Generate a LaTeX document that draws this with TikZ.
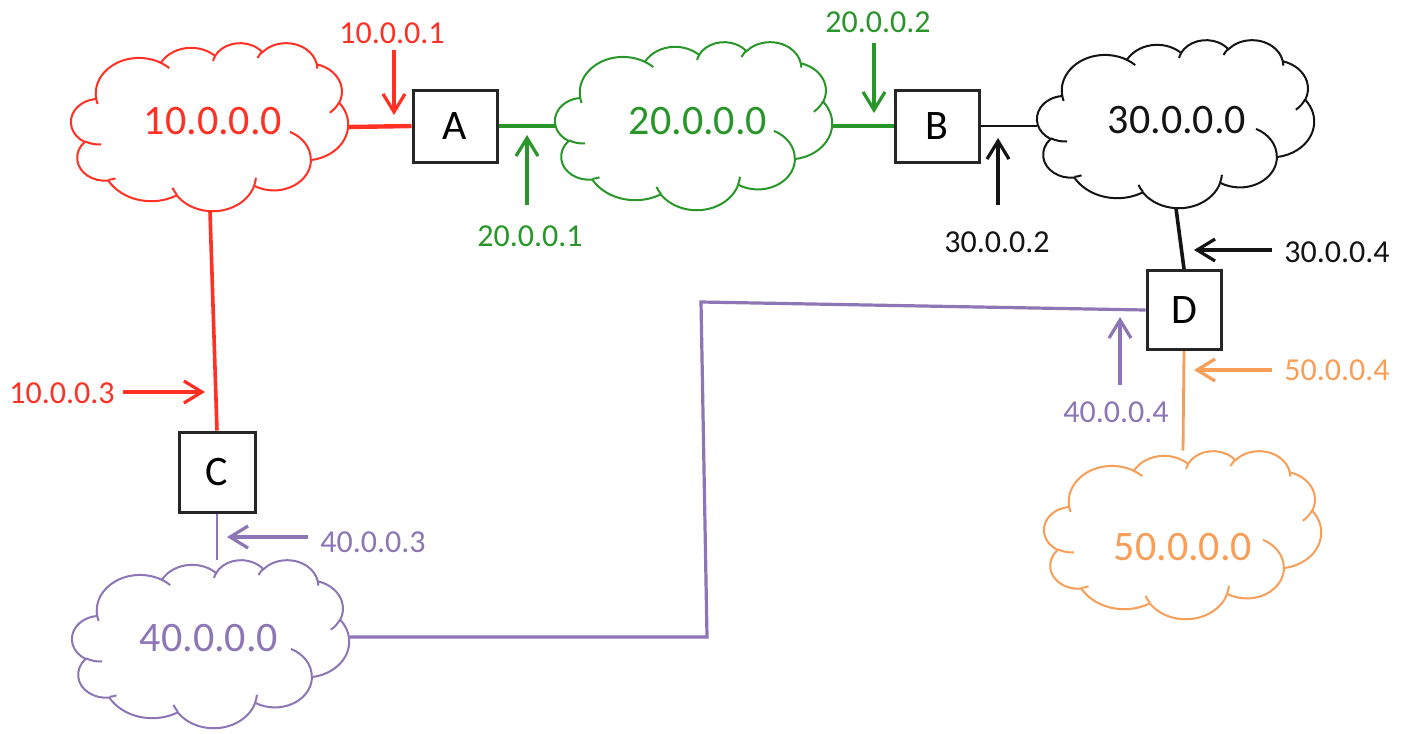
\documentclass[tikz,border=0pt]{standalone}
\usepackage{fontspec}
\setmainfont{Carlito}
\usetikzlibrary{arrows.meta,backgrounds}

\definecolor{netRed}{RGB}{255,48,36}
\definecolor{netGreen}{RGB}{40,150,40}
\definecolor{netBlack}{RGB}{20,20,20}
\definecolor{netPurple}{RGB}{140,118,182}
\definecolor{netOrange}{RGB}{247,158,88}

\pgfdeclarelayer{clouds}
\pgfsetlayers{background,clouds,main}

% cloud outline on a 4320 x 4320 grid, y pointing down
\newcommand\cloudarc[5]{%
  \pgfmathsetmacro\caT{atan2((#2)*sin(#4),(#3)*cos(#4))}%
  \pgfmathsetmacro\caD{mod(atan2((#2)*sin(#4+#5),(#3)*cos(#4+#5))-\caT+720,360)}%
  \xdef#1{\unexpanded\expandafter{#1} arc[start angle=\caT,delta angle=\caD,x radius=#2,y radius=#3]}}
\newcommand\cloudmove[2]{\xdef\cloudCreases{\unexpanded\expandafter{\cloudCreases} (#2)}}
\newcommand\cloudOutline{(390,1437)}
\newcommand\cloudCreases{}
\cloudarc\cloudOutline{675.3}{919.0}{-190.4875}{123.7805}
\cloudarc\cloudOutline{533.3}{726.7}{-144.1024}{89.9452}
\cloudarc\cloudOutline{436.5}{594.5}{-145.8079}{99.7230}
\cloudarc\cloudOutline{485.7}{659.5}{-130.9861}{117.2417}
\cloudarc\cloudOutline{533.3}{727.3}{-78.7089}{109.0269}
\cloudarc\cloudOutline{677.5}{922.0}{-46.2673}{130.2690}
\cloudarc\cloudOutline{578.5}{786.7}{0.6250}{114.0333}
\cloudarc\cloudOutline{675.2}{921.5}{22.4516}{115.1726}
\cloudarc\cloudOutline{772.0}{1054.3}{66.2426}{75.7110}
\cloudarc\cloudOutline{436.0}{591.8}{-274.9421}{146.7356}
\cloudarc\cloudOutline{434.5}{594.5}{-246.8285}{152.5189}
\cloudmove{}{469.3,2617.7}\cloudarc\cloudCreases{434.5}{594.5}{86.7420}{26.4295}
\cloudmove{}{692.8,3489.9}\cloudarc\cloudCreases{436.0}{591.8}{73.6105}{11.4475}
\cloudmove{}{1647.8,3909.0}\cloudarc\cloudCreases{675.2}{921.5}{137.6242}{14.0811}
\cloudmove{}{2882.7,3475.1}\cloudarc\cloudCreases{675.2}{921.5}{6.4533}{15.9984}
\cloudmove{}{3412.9,2295.4}\cloudarc\cloudCreases{578.5}{786.7}{-70.2924}{70.9174}
\cloudmove{}{4179.8,1535.4}\cloudarc\cloudCreases{533.3}{727.3}{30.3180}{27.7515}
\cloudmove{}{3832.4,542.6}\cloudarc\cloudCreases{485.7}{659.5}{-13.7443}{14.8589}
\cloudmove{}{2907.8,395.2}\cloudarc\cloudCreases{485.7}{659.5}{-149.1815}{18.1954}
\cloudmove{}{2214.1,472.0}\cloudarc\cloudCreases{436.5}{594.5}{-163.4943}{17.6864}
\cloudmove{}{1400.0,519.2}\cloudarc\cloudCreases{675.3}{919.0}{-66.7070}{12.3194}
\cloudmove{}{412.7,1578.9}\cloudarc\cloudCreases{675.3}{919.0}{157.6544}{11.8582}

\newcommand\drawcloud[2]{%
  \begin{pgfonlayer}{clouds}
  \begin{scope}[shift={(#1.north west)},xscale=0.06412,yscale=0.03889,
      draw=#2,line width=1pt]
    \draw[fill=white] \cloudOutline -- cycle;
    \draw \cloudCreases;
  \end{scope}
  \end{pgfonlayer}}

\tikzset{
  net/.style={inner sep=0pt,minimum width=138.5pt,minimum height=84pt},
  netlabel/.style={text=#1,inner sep=0pt,font=\fontsize{21}{25}\selectfont},
  router/.style={draw=black!85,line width=1.5pt,fill=white,
    inner sep=0pt,font=\fontsize{21}{25}\selectfont},
  addr/.style={text=#1,inner sep=1pt,font=\fontsize{16}{19}\selectfont},
  addrarrow/.style={draw=#1,line width=1.6pt,
    -{Straight Barb[length=9pt,width=11pt]}}
}

\begin{document}
\begin{tikzpicture}[x=0.5pt,y=-0.5pt]
\begin{scope}[on background layer]
\path[use as bounding box,fill=white] (0,0) rectangle (1411,731);
\end{scope}

% networks
\node[net,label={[netlabel=netRed,xshift=1.5pt,yshift=3pt]center:10.0.0.0}] (n10) at (210,127) {};
\node[net,label={[netlabel=netGreen,xshift=2pt,yshift=2.5pt]center:20.0.0.0}] (n20) at (694,126) {};
\node[net,label={[netlabel=netBlack,xshift=0.5pt,yshift=2pt]center:30.0.0.0}] (n30) at (1176,124) {};
\node[net,label={[netlabel=netPurple,xshift=-1pt,yshift=3pt]center:40.0.0.0}] (n40) at (211,644) {};
\node[net,label={[netlabel=netOrange,yshift=-6pt]center:50.0.0.0}] (n50) at (1183,535) {};
\drawcloud{n10}{netRed}
\drawcloud{n20}{netGreen}
\drawcloud{n30}{netBlack}
\drawcloud{n40}{netPurple}
\drawcloud{n50}{netOrange}

% routers
\node[router,minimum width=42pt,minimum height=36pt] (A) at (455,126) {A};
\node[router,minimum width=42pt,minimum height=36pt] (B) at (937,126) {B};
\node[router,minimum width=38pt,minimum height=40pt] (C) at (217,472) {C};
\node[router,minimum width=37pt,minimum height=39.5pt] (D) at (1184,310) {D};

% links
\begin{scope}[on background layer]
\draw[netRed,line width=2.2pt] (n10.east) -- (A.west);
\draw[netRed,line width=1.8pt] (n10.south) -- (C.north);
\draw[netGreen,line width=1.8pt] (A.east) -- (n20.west);
\draw[netGreen,line width=2.2pt] (n20.east) -- (B.west);
\draw[netBlack,line width=1.4pt] (B.east) -- (B.east -| n30.west);
\draw[netBlack,line width=1.8pt] (n30.south) -- (D.north);
\draw[netPurple,line width=1.4pt] (C.south) -- (C.south |- n40.north);
\coordinate (bend1) at (707,637);
\coordinate (bend2) at (701,302);
\draw[netPurple,line width=1.6pt] (bend1 -| n40.east) -- (bend1) -- (bend2) -- (D.west);
\draw[netOrange,line width=1.4pt] (D.south) -- (n50.north);
\end{scope}

% interface addresses
\node[addr=netRed] (a101) at (392,33) {10.0.0.1};
\coordinate (t101) at (394,115);
\draw[addrarrow=netRed,shorten <=2pt] (a101.south -| t101) -- (t101);

\node[addr=netGreen] (a201) at (530,236) {20.0.0.1};
\coordinate (t201) at (527,135);
\draw[addrarrow=netGreen,shorten <=9pt] (a201.north -| t201) -- (t201);

\node[addr=netGreen] (a202) at (878,22) {20.0.0.2};
\coordinate (t202) at (874,113);
\draw[addrarrow=netGreen,shorten <=4pt] (a202.south -| t202) -- (t202);

\node[addr=netBlack] (a302) at (997,242) {30.0.0.2};
\coordinate (t302) at (998,138);
\draw[addrarrow=netBlack,shorten <=12pt] (a302.north -| t302) -- (t302);

\node[addr=netBlack] (a304) at (1337,252) {30.0.0.4};
\coordinate (t304) at (1194,250);
\draw[addrarrow=netBlack,shorten <=5pt] (a304.west |- t304) -- (t304);

\node[addr=netRed] (a103) at (62,393) {10.0.0.3};
\coordinate (t103) at (205,392);
\draw[addrarrow=netRed,shorten <=3pt] (a103.east |- t103) -- (t103);

\node[addr=netPurple] (a403) at (373,542) {40.0.0.3};
\coordinate (t403) at (227,537);
\draw[addrarrow=netPurple,shorten <=5pt] (a403.west |- t403) -- (t403);

\node[addr=netPurple] (a404) at (1116,412) {40.0.0.4};
\coordinate (t404) at (1120,317);
\draw[addrarrow=netPurple,shorten <=7pt] (a404.north -| t404) -- (t404);

\node[addr=netOrange] (a504) at (1337,370) {50.0.0.4};
\coordinate (t504) at (1194,370);
\draw[addrarrow=netOrange,shorten <=5pt] (a504.west |- t504) -- (t504);
\end{tikzpicture}
\end{document}
